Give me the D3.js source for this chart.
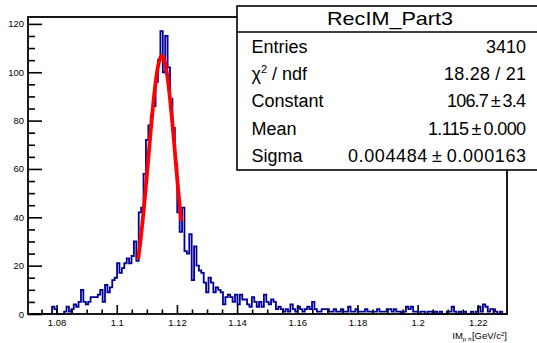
<!DOCTYPE html>
<html><head><meta charset="utf-8">
<script src="https://cdn.jsdelivr.net/npm/d3@7"></script>
<style>
body{margin:0;background:#fff}
svg{display:block}
text{font-family:"Liberation Sans",Arial,Helvetica,sans-serif;fill:#000}
</style>
</head><body>
<svg id="c" width="537" height="343"></svg>
<script>
// ---------------- data ----------------
const histName = "RecIM_Part3";
const binLow = 1.0705;
const binWidth = 0.0008;
const counts = [
  0,0,0,0,0,0,0,0,0,0,
  3,2,0,0,0,1,3,1,2,4,
  3,5,10,5,4,5,7,7,7,8,
  10,5,12,9,11,14,15,21,17,19,
  21,23,21,24,30,22,42,44,58,72,
  78,82,86,96,105,117,100,115,102,89,
  77,62,42,34,44,26,25,33,14,28,
  20,18,17,13,9,15,13,9,11,10,
  9,4,7,8,7,5,8,4,8,6,
  6,4,3,7,5,3,5,3,8,5,
  4,6,5,2,3,2,1,2,1,4,
  2,1,3,2,1,2,3,2,5,2,
  1,1,2,2,2,1,1,2,1,1,
  2,1,1,3,1,1,2,1,1,1,
  2,1,1,1,1,2,1,1,1,2,
  2,1,2,1,1,0,1,3,2,3,
  1,1,0,1,1,0,1,1,0,1,
  0,1,0,0,1,1,3,1,0,1,
  0,1,0,0,1,0,1,3,1,4,
  3,1,2,2,1,0,1,0,0
];
const xTickValues = [1.08,1.10,1.12,1.14,1.16,1.18,1.20,1.22];
const xTickLabels = ["1.08","1.1","1.12","1.14","1.16","1.18","1.2","1.22"];
const yTickValues = [0,20,40,60,80,100,120];
const yTickLabels = ["0","20","40","60","80","100","120"];
const statLabels = ["Entries","χ2 / ndf","Constant","Mean","Sigma"];
const statValues = ["3410","18.28 / 21","106.7\u2009±\u20093.4","1.115\u2009±\u20090.000","0.004484\u2009±\u20090.000163"];
const fitConstant = 106.7, fitMean = 1.115, fitSigma = 0.004484;
const fitRange = [1.1071, 1.1214];

// ---------------- layout ----------------
const svg = d3.select("#c");
const L = 28, R = 507, T = 17, B = 314;
const xMax = binLow + binWidth * counts.length;
const x = d3.scaleLinear().domain([binLow, xMax]).range([L, R]);
const y = d3.scaleLinear().domain([0, 1.05 * d3.max(counts)]).range([B, T]);

// histogram step outline
const pts = [[binLow, 0]];
counts.forEach((c, i) => {
  const lo = binLow + i * binWidth;
  pts.push([lo, c], [lo + binWidth, c]);
});
pts.push([xMax, 0]);
svg.append("path")
  .attr("d", d3.line().x(d => x(d[0])).y(d => y(d[1]))(pts))
  .attr("fill", "none").attr("stroke", "#000099").attr("stroke-width", 1.8)
  .attr("stroke-linejoin", "miter");

// fit curve
const nfit = 100;
const fitPts = d3.range(nfit + 1).map(k => {
  const xv = fitRange[0] + (fitRange[1] - fitRange[0]) * k / nfit;
  return [xv, fitConstant * Math.exp(-0.5 * Math.pow((xv - fitMean) / fitSigma, 2))];
});
svg.append("path")
  .attr("d", d3.line().x(d => x(d[0])).y(d => y(d[1]))(fitPts))
  .attr("fill", "none").attr("stroke", "#ff0000").attr("stroke-width", 3.8)
  .attr("stroke-linejoin", "round");

// frame
svg.append("rect").attr("x", L).attr("y", T).attr("width", R - L).attr("height", B - T)
  .attr("fill", "none").attr("stroke", "#000").attr("stroke-width", 1.8);

// y axis
const yMinor = d3.range(0, 121, 5).filter(v => v % 20 !== 0);
const yAx = svg.append("g").attr("transform", `translate(${L},0)`)
  .call(d3.axisLeft(y).tickValues(yTickValues).tickSizeInner(-14).tickSizeOuter(0).tickPadding(4)
    .tickFormat((d, i) => yTickLabels[i]));
yAx.select(".domain").remove();
yAx.selectAll("line").attr("stroke-width", 1.6);
yAx.selectAll("text").attr("font-size", "9.5px").attr("font-family", null).attr("fill", "#222");
const yAxm = svg.append("g").attr("transform", `translate(${L},0)`)
  .call(d3.axisLeft(y).tickValues(yMinor).tickSizeInner(-7).tickSizeOuter(0).tickFormat(""));
yAxm.select(".domain").remove();
yAxm.selectAll("line").attr("stroke-width", 1.6);

// x axis
const xMinor = d3.range(1.075, 1.2276, 0.005).filter(v => Math.abs(Math.round(v * 50) - v * 50) > 1e-6);
const xAx = svg.append("g").attr("transform", `translate(0,${B})`)
  .call(d3.axisBottom(x).tickValues(xTickValues).tickSizeInner(-9).tickSizeOuter(0).tickPadding(5)
    .tickFormat((d, i) => xTickLabels[i]));
xAx.select(".domain").remove();
xAx.selectAll("line").attr("stroke-width", 1.6);
xAx.selectAll("text").attr("font-size", "9.5px").attr("font-family", null).attr("fill", "#222");
const xAxm = svg.append("g").attr("transform", `translate(0,${B})`)
  .call(d3.axisBottom(x).tickValues(xMinor).tickSizeInner(-4.5).tickSizeOuter(0).tickFormat(""));
xAxm.select(".domain").remove();
xAxm.selectAll("line").attr("stroke-width", 1.6);

// x axis title
const xt = svg.append("text").attr("x", R).attr("y", 338.5).attr("text-anchor", "end")
  .attr("font-size", "9.5px").attr("fill", "#222");
xt.append("tspan").text("IM");
xt.append("tspan").attr("font-size", "6px").attr("dy", 2).text("p π");
xt.append("tspan").attr("dy", -2).text("[GeV/c");
xt.append("tspan").attr("font-size", "6px").attr("dy", -3).text("2");
xt.append("tspan").attr("dy", 3).text("]");

// stats box
const bx = 237, by = 6, bw = 310, bh = 164;
svg.append("rect").attr("x", bx).attr("y", by).attr("width", bw).attr("height", bh)
  .attr("fill", "#fff").attr("stroke", "#000").attr("stroke-width", 1.6);
svg.append("line").attr("x1", bx).attr("x2", bx + bw).attr("y1", 32).attr("y2", 32)
  .attr("stroke", "#000").attr("stroke-width", 1.4);
svg.append("text").attr("x", 390).attr("y", 25).attr("text-anchor", "middle")
  .attr("font-size", "19px").attr("textLength", 126).attr("lengthAdjust", "spacingAndGlyphs")
  .text(histName);
const rowBase = [52.5, 80, 107, 134.5, 161.5];
const valWidth = [null, 82, 79, 98, 178];
statLabels.forEach((lab, i) => {
  const t = svg.append("text").attr("x", 251.5).attr("y", rowBase[i]).attr("font-size", "18px");
  if (lab.startsWith("χ2")) {
    t.append("tspan").text("χ");
    t.append("tspan").attr("font-size", "11px").attr("dy", -7).text("2");
    t.append("tspan").attr("dy", 7).text(" / ndf");
  } else t.text(lab);
  const v = svg.append("text").attr("y", rowBase[i]).attr("font-size", "18px").text(statValues[i]);
  if (valWidth[i]) {
    v.attr("x", 526 - valWidth[i]).attr("textLength", valWidth[i]).attr("lengthAdjust", "spacing");
  } else {
    v.attr("x", 526).attr("text-anchor", "end");
  }
});
</script>
</body></html>
